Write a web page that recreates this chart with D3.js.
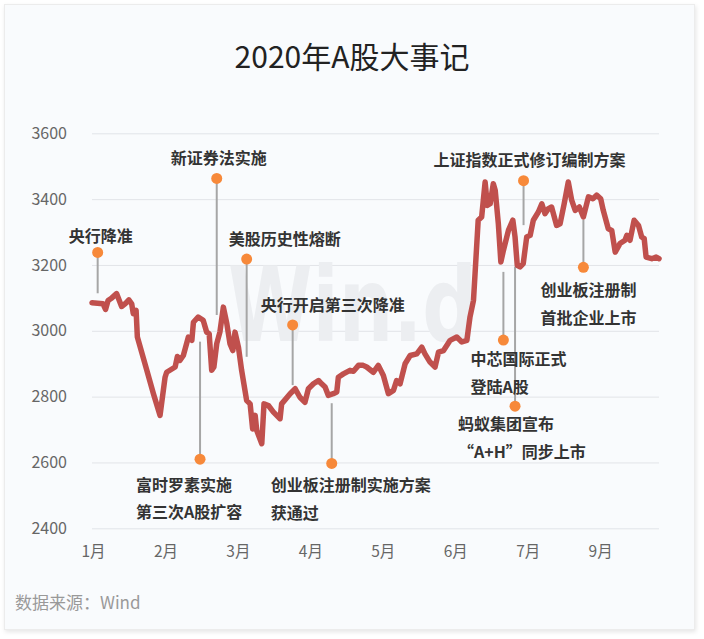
<!DOCTYPE html>
<html><head><meta charset="utf-8">
<script src="https://cdn.jsdelivr.net/npm/d3@7"></script>
<style>html,body{margin:0;padding:0;background:#fff;} svg{display:block;}</style>
</head><body><svg id="c" width="704" height="639"></svg>
<script>
// ---------------- data ----------------
const titleText = "2020年A股大事记";
const sourceText = "数据来源：Wind";
const watermarkText = "Win.d";

// trading-day index (0 = 2 Jan) and Shanghai Composite close
const dayIndex = [0,3.5,4.3,5.1,6.3,7.8,9.4,10.5,11.7,12.6,13.1,14.0,14.4,17.4,19.5,21.6,23.2,23.7,26.4,27.1,27.9,29.0,30.6,31.7,32.2,33.7,35.3,36.4,37.2,38.0,38.7,39.6,40.6,41.7,42.8,43.8,44.7,45.4,46.5,47.5,49.1,50.2,51.0,51.8,52.3,53.9,54.6,56.0,57.6,59.7,60.2,62.9,64.5,66.0,67.6,68.7,70.3,71.9,72.9,74.0,75.0,76.6,77.7,78.2,79.8,81.9,83.0,84.6,86.1,87.2,89.3,90.9,92.5,94.1,95.7,96.7,97.8,99.4,101.0,103.1,104.7,105.7,107.3,108.9,110.0,111.6,113.7,115.8,117.4,119.0,120.0,121.1,121.6,122.6,123.7,124.8,125.5,126.4,127.4,128.0,129.0,129.8,130.6,132.2,133.6,134.3,135.0,135.9,136.9,138.0,139.1,140.1,141.7,142.8,143.8,144.9,145.9,147.5,148.6,149.9,151.2,152.3,153.4,154.7,156.0,157.6,159.0,160.2,161.5,162.3,163.9,165.0,166.1,167.6,169.2,169.8,170.8,172.1,173.5,174.5,175.3,175.9,177.7,179.1,180];
const closeValues = [3085,3082,3065,3092,3100,3113,3074,3082,3094,3082,3052,3062,2981,2880,2809,2743,2859,2874,2890,2922,2910,2925,2981,2971,3026,3042,3032,2996,2991,2880,2890,2961,2996,3072,3022,2961,2940,2996,2950,2880,2788,2778,2702,2743,2697,2657,2778,2773,2753,2733,2778,2809,2824,2798,2783,2824,2839,2849,2839,2829,2804,2809,2814,2859,2869,2880,2877,2895,2895,2890,2874,2895,2864,2809,2819,2849,2839,2900,2925,2930,2950,2930,2905,2890,2935,2940,2971,2981,2966,2971,3042,3092,3173,3336,3346,3452,3381,3386,3447,3427,3325,3209,3244,3305,3336,3285,3199,3194,3204,3285,3290,3336,3361,3386,3356,3371,3376,3320,3325,3386,3452,3396,3366,3376,3346,3407,3401,3412,3401,3366,3310,3305,3239,3265,3275,3290,3275,3336,3320,3285,3280,3224,3219,3224,3219];

const monthTickDays = [0,23,46,69,92,115,138,161];
const monthTickLabels = ["1月","2月","3月","4月","5月","6月","7月","9月"];
const yTickValues = [2400,2600,2800,3000,3200,3400,3600];

// events: text lines, day of marker, marker value, value where connector ends
const eventTexts = [
  ["央行降准"],
  ["新证券法实施"],
  ["美股历史性熔断"],
  ["央行开启第三次降准"],
  ["富时罗素实施","第三次A股扩容"],
  ["创业板注册制实施方案","获通过"],
  ["上证指数正式修订编制方案"],
  ["创业板注册制","首批企业上市"],
  ["中芯国际正式","登陆A股"],
  ["蚂蚁集团宣布","“A+H”同步上市"]
];
const eventDays = [1.8,39.6,49.1,63.7,34.3,76.1,137.0,156.0,130.6,134.3];
const eventDotValues = [3238,3463,3218,3018,2610,2597,3456,3193,2972,2771];
const eventLineEndValues = [3114,3048,2921,2835,2967,2780,3321,3337,3179,3195];

// ---------------- layout ----------------
const W = 704, H = 639;
const plot = {left: 92, right: 659, top: 133.3, bottom: 528.3};
// text placement relative to marker: [anchor, dx, dy]
const eventTextLayout = [
  ["middle", 3, -10.5],
  ["middle", 2, -14],
  ["middle", 38, -14.5],
  ["middle", 40, -13.7],
  ["start", -64, 31.7],
  ["start", -61, 27.7],
  ["middle", 6, -15],
  ["start", -43, 29],
  ["start", -33, 25],
  ["start", -57, 24]
];
const lineGap = 27.5;
const cjk = "'Noto Sans CJK SC','Noto Sans',sans-serif";

const svg = d3.select("#c");
const defs = svg.append("defs");
const f = defs.append("filter").attr("id","sh").attr("x","-5%").attr("y","-5%").attr("width","110%").attr("height","110%");
f.append("feDropShadow").attr("dx",1).attr("dy",2).attr("stdDeviation",2.2).attr("flood-color","#000").attr("flood-opacity",0.10);

svg.append("rect").attr("x",4.5).attr("y",4.5).attr("width",690).attr("height",625)
  .attr("fill","#f9fbfd").attr("stroke","#ececec").attr("stroke-width",1).attr("filter","url(#sh)");

const x = d3.scaleLinear().domain([0,180]).range([plot.left, plot.right]);
const y = d3.scaleLinear().domain([2400,3600]).range([plot.bottom, plot.top]);

// title
svg.append("text").attr("x", W/2).attr("y", 68).attr("text-anchor","middle")
  .attr("font-family", cjk).attr("font-size", 30).attr("fill","#222").text(titleText);

// gridlines + y labels
const yAxis = d3.axisLeft(y).tickValues(yTickValues).tickSize(-(plot.right-plot.left)).tickPadding(25).tickFormat(d3.format("d"));
const gy = svg.append("g").attr("transform",`translate(${plot.left},0)`).call(yAxis);
gy.select(".domain").remove();
gy.selectAll(".tick line").attr("stroke","#e2e4e8").attr("stroke-width",1);
gy.selectAll(".tick text").attr("font-family", cjk).attr("font-size",16).attr("fill","#666");

// x labels
const xAxis = d3.axisBottom(x).tickValues(monthTickDays).tickSize(0).tickPadding(0)
  .tickFormat((d,i)=>monthTickLabels[i]);
const gx = svg.append("g").attr("transform",`translate(1,${plot.bottom})`).call(xAxis);
gx.select(".domain").remove();
gx.selectAll(".tick text").attr("font-family", cjk).attr("font-size",15.5).attr("fill","#666").attr("dy",null).attr("y",29);

// watermark
svg.append("text").attr("x",228).attr("y",341).attr("font-family","'DejaVu Sans',sans-serif")
  .attr("font-weight","bold").attr("font-size",104).attr("fill","#eceef1")
  .attr("textLength",249).attr("lengthAdjust","spacingAndGlyphs").text(watermarkText);

// connectors
const events = eventTexts.map((t,i)=>({lines:t, day:eventDays[i], v:eventDotValues[i], e:eventLineEndValues[i], lay:eventTextLayout[i]}));
svg.append("g").selectAll("line").data(events).join("line")
  .attr("x1",d=>x(d.day)).attr("x2",d=>x(d.day))
  .attr("y1",d=>y(d.v)).attr("y2",d=>y(d.e))
  .attr("stroke","#a6a6a6").attr("stroke-width",2);

// main line
const pts = dayIndex.map((d,i)=>[d, closeValues[i]]);
svg.append("path").datum(pts)
  .attr("d", d3.line().x(d=>x(d[0])).y(d=>y(d[1])))
  .attr("fill","none").attr("stroke","#c0504d").attr("stroke-width",5.5)
  .attr("stroke-linejoin","round").attr("stroke-linecap","round");

// markers
svg.append("g").selectAll("circle").data(events).join("circle")
  .attr("cx",d=>x(d.day)).attr("cy",d=>y(d.v)).attr("r",5.5).attr("fill","#f7893a");

// event text
const tg = svg.append("g");
events.forEach(ev=>{
  const t = tg.append("text").attr("font-family",cjk).attr("font-size",16).attr("font-weight","bold")
    .attr("fill","#333").attr("text-anchor",ev.lay[0]);
  ev.lines.forEach((ln,j)=>{
    t.append("tspan").attr("x", x(ev.day)+ev.lay[1]).attr("y", y(ev.v)+ev.lay[2]+j*lineGap).text(ln);
  });
});

// source
svg.append("text").attr("x",15).attr("y",609).attr("font-family",cjk).attr("font-size",17)
  .attr("fill","#999").text(sourceText);
</script></body></html>
